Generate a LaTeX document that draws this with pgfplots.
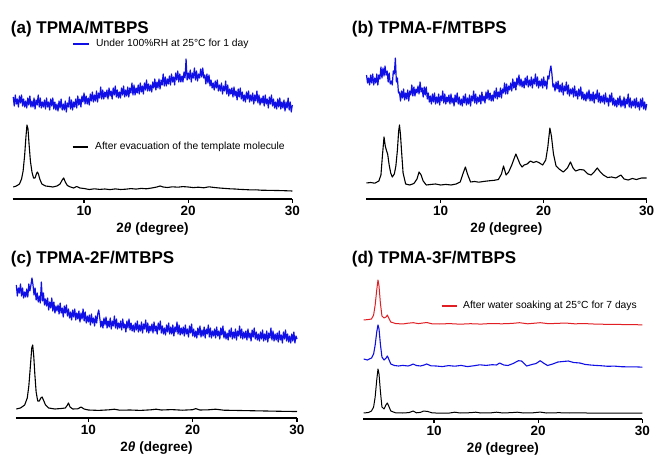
\documentclass[border=0pt]{standalone}
\usepackage{fontspec}
\setmainfont{Liberation Sans}
\usepackage{pgfplots}
\pgfplotsset{compat=1.18}

\definecolor{xblue}{RGB}{15,15,230}
\definecolor{xred}{RGB}{225,30,35}

\pgfplotsset{
  xrd/.style={
    scale only axis, anchor=south west,
    height=160pt, ymin=0, ymax=160, xmax=30,
    axis x line=bottom, axis y line=none, ytick=\empty,
    x axis line style={line width=1.4pt,-},
    xtick={10,20,30}, xticklabels={10,20,30},
    tick align=outside, major tick length=4pt,
    xtick style={line width=1.2pt,black},
    xticklabel style={font=\fontsize{13.5}{14}\selectfont\bfseries},
    xlabel={2\textit{θ} (degree)},
    xlabel style={font=\fontsize{13.5}{14}\selectfont\bfseries,
      at={(axis description cs:0.5,0)}, anchor=center, yshift=-30pt},
    clip=false,
  },
  noisy/.style={xblue, line width=1.2pt, line join=round},
  pat/.style={black, line width=1.1pt, line join=round},
}

\begin{document}
\begin{tikzpicture}
\useasboundingbox (0pt,0pt) rectangle (654pt,-457pt);

% (a) TPMA/MTBPS
\begin{axis}[xrd, at={(12.7pt,-199pt)}, width=279.6pt, xmin=3.15]
\addplot[noisy] coordinates {
(3.2,102) (3.3,93) (3.4,104) (3.5,95) (3.6,100) (3.7,92) (3.8,103) (3.9,96) (4.0,104) (4.1,93)
(4.2,100) (4.3,92) (4.4,98) (4.5,91) (4.6,101) (4.7,94) (4.8,103) (4.9,92) (5.0,98) (5.1,92)
(5.2,101) (5.3,90) (5.4,99) (5.5,94) (5.6,104) (5.7,92) (5.8,101) (5.9,91) (6.0,97) (6.1,92)
(6.2,99) (6.3,90) (6.4,101) (6.5,92) (6.6,97) (6.7,89) (6.8,100) (6.9,93) (7.0,101) (7.1,90)
(7.2,97) (7.3,89) (7.4,95) (7.5,88) (7.6,98) (7.7,91) (7.8,100) (7.9,89) (8.0,95) (8.1,89)
(8.2,98) (8.3,87) (8.4,96) (8.5,92) (8.6,102) (8.7,90) (8.8,99) (8.9,89) (9.0,97) (9.1,92)
(9.2,100) (9.3,91) (9.4,103) (9.5,94) (9.6,100) (9.7,92) (9.8,103) (9.9,97) (10.0,106) (10.1,95)
(10.2,103) (10.3,95) (10.4,101) (10.5,94) (10.6,105) (10.7,98) (10.8,107) (10.9,97) (11.0,104) (11.1,98)
(11.2,108) (11.3,97) (11.4,106) (11.5,101) (11.6,112) (11.7,100) (11.8,109) (11.9,100) (12.0,107) (12.1,102)
(12.2,109) (12.3,100) (12.4,111) (12.5,103) (12.6,108) (12.7,100) (12.8,111) (12.9,104) (13.0,113) (13.1,102)
(13.2,109) (13.3,101) (13.4,107) (13.5,101) (13.6,111) (13.7,104) (13.8,113) (13.9,102) (14.0,109) (14.1,103)
(14.2,112) (14.3,102) (14.4,111) (14.5,106) (14.6,116) (14.7,104) (14.8,114) (14.9,104) (15.0,111) (15.1,106)
(15.2,114) (15.3,105) (15.4,116) (15.5,107) (15.6,113) (15.7,105) (15.8,116) (15.9,109) (16.0,119) (16.1,108)
(16.2,115) (16.3,108) (16.4,114) (16.5,107) (16.6,117) (16.7,111) (16.8,120) (16.9,109) (17.0,117) (17.1,111)
(17.2,120) (17.3,110) (17.4,119) (17.5,114) (17.6,125) (17.7,113) (17.8,122) (17.9,113) (18.0,120) (18.1,115)
(18.2,123) (18.3,114) (18.4,125) (18.5,117) (18.6,122) (18.7,114) (18.8,126) (18.9,119) (19.0,128) (19.1,117)
(19.2,125) (19.3,117) (19.4,123) (19.5,117) (19.6,127) (19.7,121) (19.8,140) (19.9,119) (20.0,126) (20.1,120)
(20.2,129) (20.3,117) (20.4,126) (20.5,121) (20.6,131) (20.7,119) (20.8,128) (20.9,118) (21.0,125) (21.1,121)
(21.2,130) (21.3,122) (21.4,131) (21.5,121) (21.6,124) (21.7,115) (21.8,125) (21.9,116) (22.0,124) (22.1,113)
(22.2,119) (22.3,111) (22.4,116) (22.5,109) (22.6,118) (22.7,111) (22.8,119) (22.9,108) (23.0,114) (23.1,108)
(23.2,116) (23.3,105) (23.4,113) (23.5,108) (23.6,118) (23.7,105) (23.8,114) (23.9,103) (24.0,110) (24.1,105)
(24.2,111) (24.3,102) (24.4,112) (24.5,103) (24.6,108) (24.7,99) (24.8,110) (24.9,102) (25.0,111) (25.1,100)
(25.2,107) (25.3,98) (25.4,104) (25.5,97) (25.6,107) (25.7,100) (25.8,108) (25.9,97) (26.0,104) (26.1,98)
(26.2,106) (26.3,95) (26.4,104) (26.5,98) (26.6,108) (26.7,96) (26.8,104) (26.9,94) (27.0,101) (27.1,96)
(27.2,103) (27.3,93) (27.4,104) (27.5,95) (27.6,100) (27.7,91) (27.8,102) (27.9,95) (28.0,104) (28.1,93)
(28.2,100) (28.3,91) (28.4,97) (28.5,90) (28.6,100) (28.7,92) (28.8,101) (28.9,90) (29.0,97) (29.1,91)
(29.2,99) (29.3,88) (29.4,97) (29.5,91) (29.6,101) (29.7,89) (29.8,97) (29.9,87) (30.0,94)
};
\addplot[pat] coordinates {
(3.2,12) (3.5,13) (3.8,15) (4.0,20) (4.15,28) (4.3,44) (4.42,62) (4.52,74) (4.62,70)
(4.72,55) (4.85,38) (5.0,27) (5.15,21) (5.3,21) (5.42,25) (5.52,27) (5.62,25) (5.75,20)
(5.95,15) (6.3,13) (6.7,12.5) (7.0,12) (7.4,13) (7.7,15) (7.9,19) (8.05,21) (8.2,17)
(8.4,13.5) (8.7,12) (9.0,11) (9.3,12.5) (9.6,11) (10.0,10.5) (10.5,9.5) (11,10.2)
(11.5,9.6) (12,10) (12.5,9.4) (13,10.1) (13.5,9.5) (14,9.8) (14.5,10.4) (15,9.9)
(15.5,10.6) (16,10.2) (16.5,11) (17,12) (17.3,13) (17.6,12) (18,11.5) (18.5,12.2)
(19,11.8) (19.5,12.4) (20,12) (20.5,11.4) (21,11.8) (21.5,11.2) (22,12.2) (22.5,11.5)
(23,11) (23.5,10.6) (24,10.2) (24.5,10) (25,9.6) (25.5,9.4) (26,9.1) (26.5,9.2)
(27,8.8) (27.5,8.7) (28,8.6) (28.5,8.5) (29,8.4) (29.5,8.2) (30,8)
};
\end{axis}

% (b) TPMA-F/MTBPS
\begin{axis}[xrd, at={(366pt,-199pt)}, width=280.7pt, xmin=2.75]
\addplot[noisy] coordinates {
(2.8,124) (2.9,116) (3.0,121) (3.1,114) (3.2,124) (3.3,116) (3.4,125) (3.5,114) (3.6,121) (3.7,116)
(3.8,125) (3.9,114) (4.0,124) (4.1,120) (4.2,132) (4.3,121) (4.4,131) (4.5,123) (4.6,133) (4.7,124)
(4.8,128) (4.9,117) (5.0,126) (5.1,115) (5.2,118) (5.3,114) (5.4,128) (5.5,125) (5.6,141) (5.7,117)
(5.8,121) (5.9,106) (6.0,107) (6.1,98) (6.2,108) (6.3,101) (6.4,110) (6.5,99) (6.6,106) (6.7,100)
(6.8,109) (6.9,98) (7.0,108) (7.1,104) (7.2,114) (7.3,103) (7.4,112) (7.5,103) (7.6,110) (7.7,106)
(7.8,113) (7.9,105) (8.0,117) (8.1,107) (8.2,111) (8.3,102) (8.4,112) (8.5,104) (8.6,112) (8.7,100)
(8.8,106) (8.9,97) (9.0,103) (9.1,95) (9.2,105) (9.3,97) (9.4,106) (9.5,95) (9.6,102) (9.7,96)
(9.8,105) (9.9,94) (10.0,103) (10.1,98) (10.2,108) (10.3,96) (10.4,105) (10.5,95) (10.6,102) (10.7,97)
(10.8,104) (10.9,95) (11.0,105) (11.1,96) (11.2,101) (11.3,93) (11.4,104) (11.5,97) (11.6,106) (11.7,95)
(11.8,102) (11.9,94) (12.0,100) (12.1,93) (12.2,103) (12.3,96) (12.4,105) (12.5,94) (12.6,101) (12.7,95)
(12.8,104) (12.9,93) (13.0,103) (13.1,98) (13.2,108) (13.3,96) (13.4,105) (13.5,95) (13.6,102) (13.7,97)
(13.8,104) (13.9,95) (14.0,107) (14.1,98) (14.2,103) (14.3,96) (14.4,107) (14.5,100) (14.6,109) (14.7,99)
(14.8,106) (14.9,98) (15.0,104) (15.1,98) (15.2,108) (15.3,101) (15.4,111) (15.5,100) (15.6,107) (15.7,102)
(15.8,111) (15.9,101) (16.0,110) (16.1,106) (16.2,116) (16.3,105) (16.4,115) (16.5,105) (16.6,113) (16.7,109)
(16.8,116) (16.9,108) (17.0,120) (17.1,111) (17.2,117) (17.3,109) (17.4,121) (17.5,114) (17.6,124) (17.7,113)
(17.8,120) (17.9,112) (18.0,118) (18.1,111) (18.2,121) (18.3,114) (18.4,123) (18.5,112) (18.6,119) (18.7,113)
(18.8,122) (18.9,111) (19.0,120) (19.1,115) (19.2,125) (19.3,113) (19.4,122) (19.5,111) (19.6,118) (19.7,113)
(19.8,120) (19.9,111) (20.0,122) (20.1,113) (20.2,118) (20.3,110) (20.4,123) (20.5,120) (20.6,128) (20.7,133)
(20.8,125) (20.9,112) (21.0,115) (21.1,108) (21.2,117) (21.3,110) (21.4,118) (21.5,107) (21.6,114) (21.7,107)
(21.8,116) (21.9,104) (22.0,113) (22.1,108) (22.2,117) (22.3,105) (22.4,114) (22.5,103) (22.6,110) (22.7,105)
(22.8,111) (22.9,102) (23.0,113) (23.1,103) (23.2,108) (23.3,100) (23.4,110) (23.5,103) (23.6,112) (23.7,100)
(23.8,107) (23.9,99) (24.0,105) (24.1,98) (24.2,107) (24.3,100) (24.4,109) (24.5,98) (24.6,105) (24.7,98)
(24.8,107) (24.9,96) (25.0,105) (25.1,100) (25.2,109) (25.3,97) (25.4,106) (25.5,96) (25.6,103) (25.7,97)
(25.8,104) (25.9,95) (26.0,106) (26.1,97) (26.2,101) (26.3,93) (26.4,104) (26.5,97) (26.6,106) (26.7,94)
(26.8,101) (26.9,93) (27.0,99) (27.1,92) (27.2,101) (27.3,94) (27.4,103) (27.5,92) (27.6,99) (27.7,93)
(27.8,102) (27.9,91) (28.0,100) (28.1,95) (28.2,105) (28.3,92) (28.4,101) (28.5,91) (28.6,98) (28.7,93)
(28.8,100) (28.9,91) (29.0,101) (29.1,92) (29.2,97) (29.3,89) (29.4,100) (29.5,92) (29.6,101) (29.7,90)
(29.8,97) (29.9,89) (30.0,95)
};
\addplot[pat] coordinates {
(2.8,16) (3.2,16.5) (3.6,15.8) (4.0,18) (4.2,24) (4.35,44) (4.5,62) (4.62,53) (4.75,48)
(4.85,45) (5.0,34) (5.15,26) (5.3,22) (5.5,25) (5.65,33) (5.8,49) (5.92,68) (6.0,74)
(6.1,64) (6.2,48) (6.35,26) (6.6,15) (7.0,14) (7.4,15.5) (7.7,20) (7.9,27) (8.1,24)
(8.3,18) (8.6,14) (9.0,14.5) (9.5,15) (10,14) (10.5,14.6) (11,14) (11.5,15) (11.9,17)
(12.15,25) (12.4,32) (12.6,25) (12.9,17) (13.3,17.5) (13.7,16.8) (14.2,17.6) (14.7,18.2)
(15.2,18.7) (15.6,19.5) (15.9,25) (16.1,33) (16.35,24) (16.6,27) (16.9,34) (17.15,41)
(17.3,45) (17.5,40) (17.7,35) (17.9,32) (18.1,34) (18.4,35) (18.7,38) (19.0,36.5)
(19.3,37.5) (19.6,36) (19.9,34) (20.2,39) (20.4,52) (20.6,71) (20.75,63) (20.95,45)
(21.2,33) (21.5,30) (21.9,27) (22.3,31) (22.6,37) (22.85,31) (23.1,28) (23.5,29.5)
(23.9,29) (24.3,25) (24.6,24) (24.9,27) (25.2,31) (25.5,27) (25.8,24) (26.2,21.5)
(26.6,22) (27.0,21) (27.5,24) (27.8,20) (28.2,19) (28.6,20.5) (29.0,19.5) (29.5,21)
(30.0,21)
};
\end{axis}

% (c) TPMA-2F/MTBPS
\begin{axis}[xrd, at={(16pt,-418pt)}, width=281pt, xmin=3.07]
\addplot[noisy] coordinates {
(3.1,133) (3.2,122) (3.3,130) (3.4,125) (3.5,134) (3.6,122) (3.7,130) (3.8,120) (3.9,126) (4.0,121)
(4.1,129) (4.2,121) (4.3,134) (4.4,127) (4.5,133) (4.6,140) (4.7,133) (4.8,123) (4.9,130) (5.0,118)
(5.1,125) (5.2,116) (5.3,122) (5.4,115) (5.5,136) (5.6,117) (5.7,125) (5.8,113) (5.9,119) (6.0,112)
(6.1,120) (6.2,108) (6.3,116) (6.4,110) (6.5,120) (6.6,107) (6.7,116) (6.8,105) (6.9,112) (7.0,107)
(7.1,113) (7.2,104) (7.3,115) (7.4,105) (7.5,110) (7.6,101) (7.7,112) (7.8,105) (7.9,113) (8.0,102)
(8.1,109) (8.2,100) (8.3,106) (8.4,98) (8.5,108) (8.6,101) (8.7,109) (8.8,98) (8.9,105) (9.0,99)
(9.1,107) (9.2,96) (9.3,105) (9.4,99) (9.5,109) (9.6,97) (9.7,106) (9.8,95) (9.9,102) (10.0,96)
(10.1,103) (10.2,93) (10.3,104) (10.4,95) (10.5,100) (10.6,92) (10.7,102) (10.8,95) (10.9,104) (11.0,108)
(11.1,100) (11.2,91) (11.3,97) (11.4,90) (11.5,100) (11.6,93) (11.7,101) (11.8,90) (11.9,97) (12.0,91)
(12.1,100) (12.2,89) (12.3,97) (12.4,92) (12.5,102) (12.6,90) (12.7,99) (12.8,89) (12.9,95) (13.0,90)
(13.1,97) (13.2,88) (13.3,99) (13.4,90) (13.5,94) (13.6,86) (13.7,97) (13.8,90) (13.9,99) (14.0,88)
(14.1,95) (14.2,87) (14.3,93) (14.4,86) (14.5,95) (14.6,88) (14.7,97) (14.8,86) (14.9,93) (15.0,87)
(15.1,96) (15.2,85) (15.3,94) (15.4,89) (15.5,98) (15.6,86) (15.7,95) (15.8,85) (15.9,92) (16.0,87)
(16.1,94) (16.2,85) (16.3,96) (16.4,87) (16.5,92) (16.6,84) (16.7,95) (16.8,88) (16.9,97) (17.0,85)
(17.1,92) (17.2,84) (17.3,90) (17.4,83) (17.5,93) (17.6,86) (17.7,95) (17.8,84) (17.9,91) (18.0,84)
(18.1,93) (18.2,82) (18.3,91) (18.4,86) (18.5,96) (18.6,84) (18.7,93) (18.8,83) (18.9,90) (19.0,84)
(19.1,91) (19.2,82) (19.3,93) (19.4,84) (19.5,89) (19.6,81) (19.7,92) (19.8,85) (19.9,94) (20.0,82)
(20.1,89) (20.2,81) (20.3,87) (20.4,80) (20.5,90) (20.6,83) (20.7,92) (20.8,81) (20.9,88) (21.0,82)
(21.1,91) (21.2,80) (21.3,89) (21.4,84) (21.5,93) (21.6,81) (21.7,90) (21.8,80) (21.9,87) (22.0,82)
(22.1,89) (22.2,80) (22.3,91) (22.4,82) (22.5,87) (22.6,79) (22.7,90) (22.8,83) (22.9,92) (23.0,80)
(23.1,87) (23.2,79) (23.3,85) (23.4,78) (23.5,88) (23.6,81) (23.7,90) (23.8,79) (23.9,86) (24.0,80)
(24.1,89) (24.2,78) (24.3,87) (24.4,82) (24.5,92) (24.6,80) (24.7,89) (24.8,79) (24.9,86) (25.0,80)
(25.1,87) (25.2,78) (25.3,89) (25.4,80) (25.5,85) (25.6,77) (25.7,88) (25.8,81) (25.9,90) (26.0,79)
(26.1,86) (26.2,78) (26.3,84) (26.4,77) (26.5,86) (26.6,79) (26.7,88) (26.8,77) (26.9,84) (27.0,78)
(27.1,87) (27.2,76) (27.3,85) (27.4,80) (27.5,90) (27.6,78) (27.7,87) (27.8,77) (27.9,84) (28.0,78)
(28.1,85) (28.2,76) (28.3,87) (28.4,78) (28.5,83) (28.6,75) (28.7,86) (28.8,79) (28.9,88) (29.0,77)
(29.1,84) (29.2,76) (29.3,82) (29.4,75) (29.5,84) (29.6,77) (29.7,86) (29.8,75) (29.9,82) (30.0,79)
};
\addplot[pat] coordinates {
(3.1,9) (3.5,10) (3.9,13) (4.15,20) (4.3,32) (4.45,52) (4.58,70) (4.67,73) (4.77,62)
(4.88,43) (5.0,26) (5.15,17) (5.3,17) (5.45,20) (5.57,21) (5.7,18) (5.9,13) (6.2,10)
(6.8,9) (7.4,9.5) (7.8,10) (8.0,13) (8.1,15) (8.25,11) (8.5,9) (9.0,9.2) (9.3,11)
(9.6,9) (10.0,8) (11,7.6) (12,8.2) (12.5,8.8) (13,7.8) (14,8) (15,7.6) (16,8.2)
(16.5,8.8) (17,8) (18,8.4) (19,7.8) (20.0,8.3) (20.3,9.4) (20.7,8) (21.5,8.2)
(22.2,8.8) (23,7.8) (24,7.6) (25,7.4) (26,7.2) (27,7) (28,6.8) (29,6.6) (30,6.5)
};
\end{axis}

% (d) TPMA-3F/MTBPS
\begin{axis}[xrd, at={(363.3pt,-419pt)}, width=279pt, xmin=3.21]
\addplot[xred, line width=1pt, line join=round] coordinates {
(3.25,99) (3.7,99.5) (4.0,100) (4.2,104) (4.35,114) (4.5,129) (4.62,139) (4.72,133)
(4.85,116) (5.0,103) (5.2,101) (5.4,102) (5.52,104) (5.65,101) (5.85,97) (6.3,95.5)
(7.0,95) (7.5,95.8) (8.0,96.3) (8.5,95.4) (9.3,96.5) (9.8,95.2) (10.5,95) (11.5,95.4)
(12.5,94.8) (13.5,95.3) (14.5,94.9) (15.5,95.5) (16.5,95.2) (17.5,95.6) (18.2,96.3)
(19,95.2) (20.2,96.3) (21,95.3) (22,95.7) (22.6,96) (23.5,95.2) (24.5,95.4) (25.5,94.9)
(26.5,94.7) (27.5,94.6) (28.5,94.4) (29.5,94.3) (30,94)
};
\addplot[xblue, line width=1.1pt, line join=round] coordinates {
(3.25,60) (3.6,59) (4.0,61) (4.2,65) (4.35,74) (4.5,87) (4.62,94) (4.72,90) (4.85,75)
(5.0,62) (5.2,59) (5.4,61) (5.52,63) (5.65,60) (5.85,55) (6.2,53.5) (6.6,53) (7.0,53.6)
(7.5,53) (7.8,54) (8.0,55) (8.3,53.5) (8.7,53) (9.0,53.8) (9.3,55) (9.7,53.2) (10.2,53)
(10.8,52.4) (11.4,53.4) (12,52.8) (12.6,53.6) (13.2,52.4) (13.8,53.2) (14.4,54.2) (15,53.6)
(15.6,54.3) (16.0,54) (16.3,56) (16.7,54) (17.1,53.5) (17.6,55.5) (18.1,58.3) (18.4,58)
(18.9,53) (19.4,54.5) (19.8,55.5) (20.2,58.3) (20.5,56) (20.9,53.5) (21.4,55) (21.9,57)
(22.4,57.5) (22.9,58) (23.4,56.5) (24.0,56) (24.5,54.6) (25.0,54) (25.5,53.6) (26,53.3)
(26.7,52.7) (27.3,52.9) (28,52.3) (28.7,52.1) (29.3,52.2) (30,51.8)
};
\addplot[pat, line width=1pt] coordinates {
(3.25,6) (3.7,6.5) (4.0,8) (4.2,12) (4.35,22) (4.5,39) (4.62,50) (4.72,45) (4.85,28)
(5.0,12) (5.2,10) (5.38,14) (5.52,16) (5.65,13) (5.85,8) (6.3,6.2) (7.0,6) (7.6,6.4)
(8.0,8) (8.3,6.2) (8.7,6.6) (9.0,8) (9.4,7.5) (9.8,6.2) (10.5,5.8) (11.5,6) (12,6.8)
(12.5,6) (13.5,6.3) (14,6.8) (14.5,6) (15.5,6.2) (16,6.8) (16.6,6) (17.5,6.4) (18,6.8)
(18.6,6) (19.5,6.2) (20.2,6.9) (20.8,6) (22,6.3) (23,6) (24,6.2) (25,5.9) (26,6)
(27,5.9) (28,6) (29,5.8) (30,5.8)
};
\end{axis}

% panel titles
\begin{scope}[every node/.style={anchor=base west, inner sep=0pt,
    font=\fontsize{17}{20}\selectfont\bfseries}]
\node at (10.7pt,-33.5pt) {(a) TPMA/MTBPS};
\node at (351.7pt,-33.5pt) {(b) TPMA-F/MTBPS};
\node at (10.7pt,-263.5pt) {(c) TPMA-2F/MTBPS};
\node at (351.7pt,-263.5pt) {(d) TPMA-3F/MTBPS};
\end{scope}

% legend keys
\begin{scope}[every node/.style={anchor=west, inner sep=0pt,
    font=\fontsize{10.3}{12}\selectfont}]
\draw[xblue, line width=2pt] (73pt,-44pt) -- (89pt,-44pt);
\node at (96pt,-44pt) {Under 100\%RH at 25°C for 1 day};
\draw[black, line width=2pt] (72.7pt,-146.7pt) -- (88.3pt,-146.7pt);
\node at (95pt,-146.7pt) {After evacuation of the template molecule};
\draw[xred, line width=2pt] (441.7pt,-306pt) -- (456.7pt,-306pt);
\node at (463pt,-306pt) {After water soaking at 25°C for 7 days};
\end{scope}
\end{tikzpicture}
\end{document}
